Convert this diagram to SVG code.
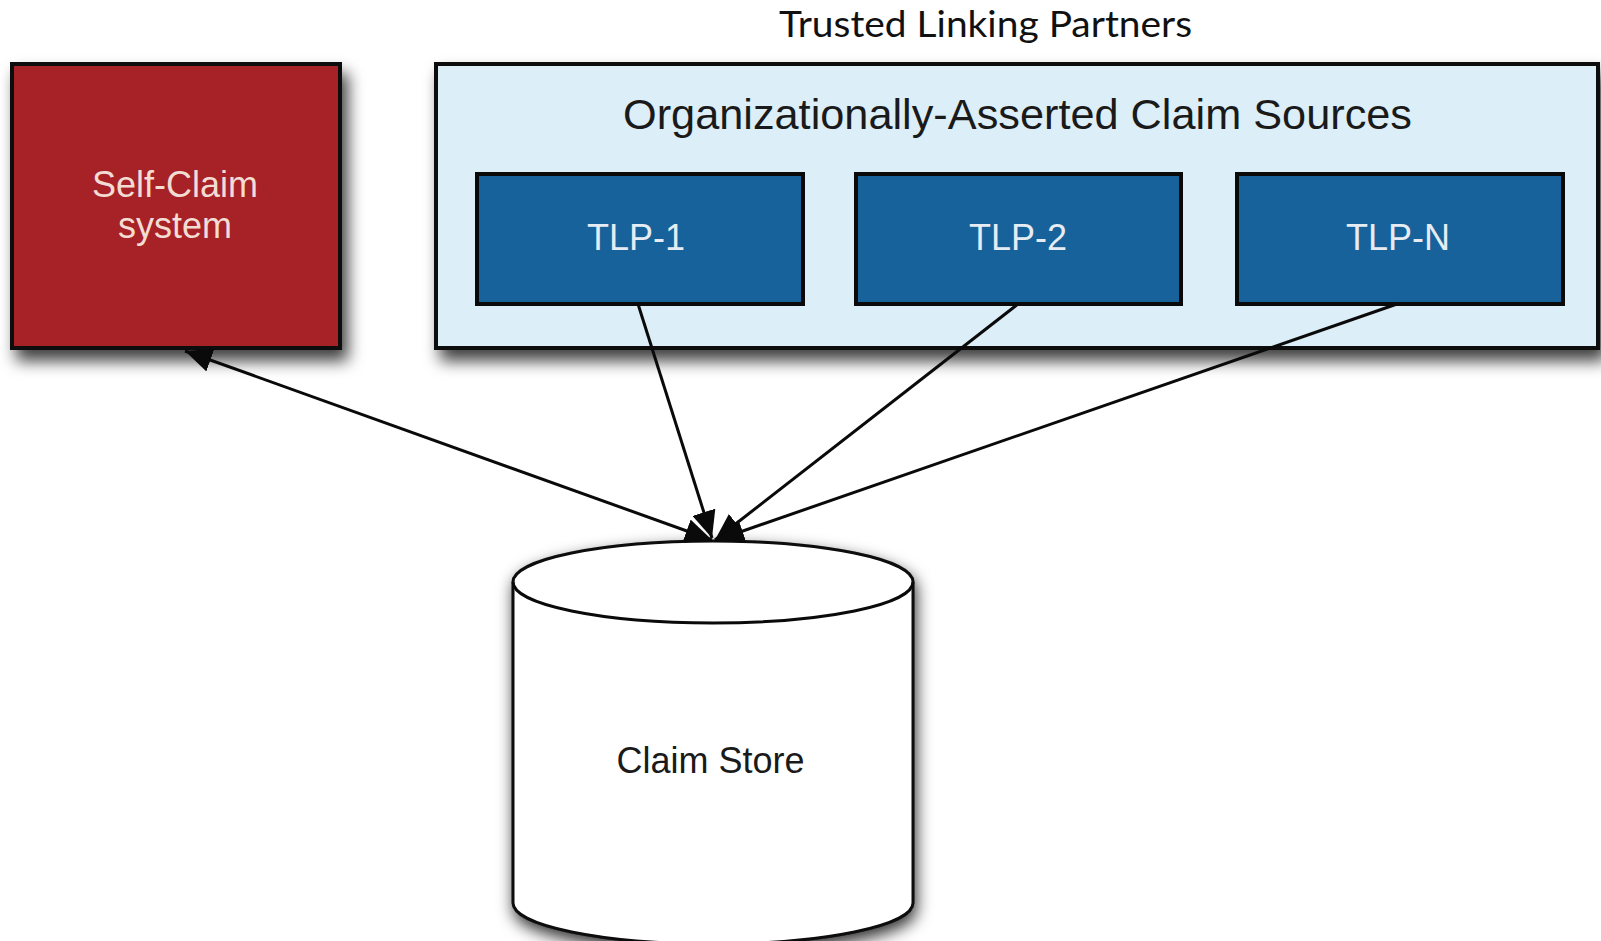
<svg xmlns="http://www.w3.org/2000/svg" width="1601" height="941" viewBox="0 0 1601 941">
<style>
.box{stroke:#0a0a0a;stroke-width:4}
.lbl{font-family:"Liberation Sans",Arial,Helvetica,sans-serif;font-size:36px;text-anchor:middle}
.conn{stroke:#0a0a0a;stroke-width:3;fill:none}
</style>
<defs>
<filter id="sh" x="-20%" y="-20%" width="140%" height="160%">
<feDropShadow dx="6" dy="11" stdDeviation="8" flood-color="#000" flood-opacity="0.75"/>
</filter>
<filter id="shc" x="-20%" y="-20%" width="140%" height="140%">
<feDropShadow dx="2" dy="7" stdDeviation="8" flood-color="#000" flood-opacity="0.8"/>
</filter>
<marker id="ah" viewBox="0 0 27 24" refX="27" refY="12" markerWidth="27" markerHeight="24" markerUnits="userSpaceOnUse" orient="auto-start-reverse">
<path d="M0,0 L27,12 L0,24 z" fill="#0a0a0a"/>
</marker>
</defs>
<rect width="1601" height="941" fill="#ffffff"/>
<text x="985.5" y="37" font-family="Lato,'Open Sans',sans-serif" font-size="37" fill="#111" text-anchor="middle" textLength="413" lengthAdjust="spacingAndGlyphs">Trusted Linking Partners</text>
<g id="self-claim">
<rect class="box" x="12" y="64" width="328" height="284" fill="#A62128" filter="url(#sh)"/>
<text class="lbl" x="175" y="197" fill="#F2DCD4">Self-Claim</text>
<text class="lbl" x="175" y="238" fill="#F2DCD4">system</text>
</g>
<g id="org-sources">
<rect class="box" x="436" y="64" width="1162" height="284" fill="#DCEEF8" filter="url(#sh)"/>
<text x="1017.5" y="129" font-family="'Liberation Sans',Arial,sans-serif" font-size="42" fill="#1a1a1a" text-anchor="middle" textLength="789" lengthAdjust="spacingAndGlyphs">Organizationally-Asserted Claim Sources</text>
</g>
<g id="tlp-1">
<rect class="box" x="477" y="174" width="326" height="130" fill="#17629A" stroke-width="3.5"/>
<text class="lbl" x="636" y="250" fill="#E6ECF3">TLP-1</text>
</g>
<g id="tlp-2">
<rect class="box" x="856" y="174" width="325" height="130" fill="#17629A" stroke-width="3.5"/>
<text class="lbl" x="1018" y="250" fill="#E6ECF3">TLP-2</text>
</g>
<g id="tlp-n">
<rect class="box" x="1237" y="174" width="326" height="130" fill="#17629A" stroke-width="3.5"/>
<text class="lbl" x="1398" y="250" fill="#E6ECF3">TLP-N</text>
</g>
<g id="claim-store">
<path d="M513,582 L513,903 A200,41 0 0 0 913,903 L913,582 A200,41 0 0 0 513,582 Z" fill="#ffffff" stroke="#0a0a0a" stroke-width="3" filter="url(#shc)"/>
<path d="M513,582 A200,41 0 0 0 913,582" fill="none" stroke="#0a0a0a" stroke-width="3"/>
<text class="lbl" x="710.5" y="773" fill="#1a1a1a">Claim Store</text>
</g>
<g id="connectors">
<line class="conn" x1="185" y1="351" x2="712" y2="540" marker-start="url(#ah)" marker-end="url(#ah)"/>
<line class="conn" x1="638" y1="304" x2="712" y2="538" marker-end="url(#ah)"/>
<line class="conn" x1="1018" y1="304" x2="715" y2="540" marker-end="url(#ah)"/>
<line class="conn" x1="1397" y1="304" x2="717" y2="540" marker-end="url(#ah)"/>
</g>
</svg>
